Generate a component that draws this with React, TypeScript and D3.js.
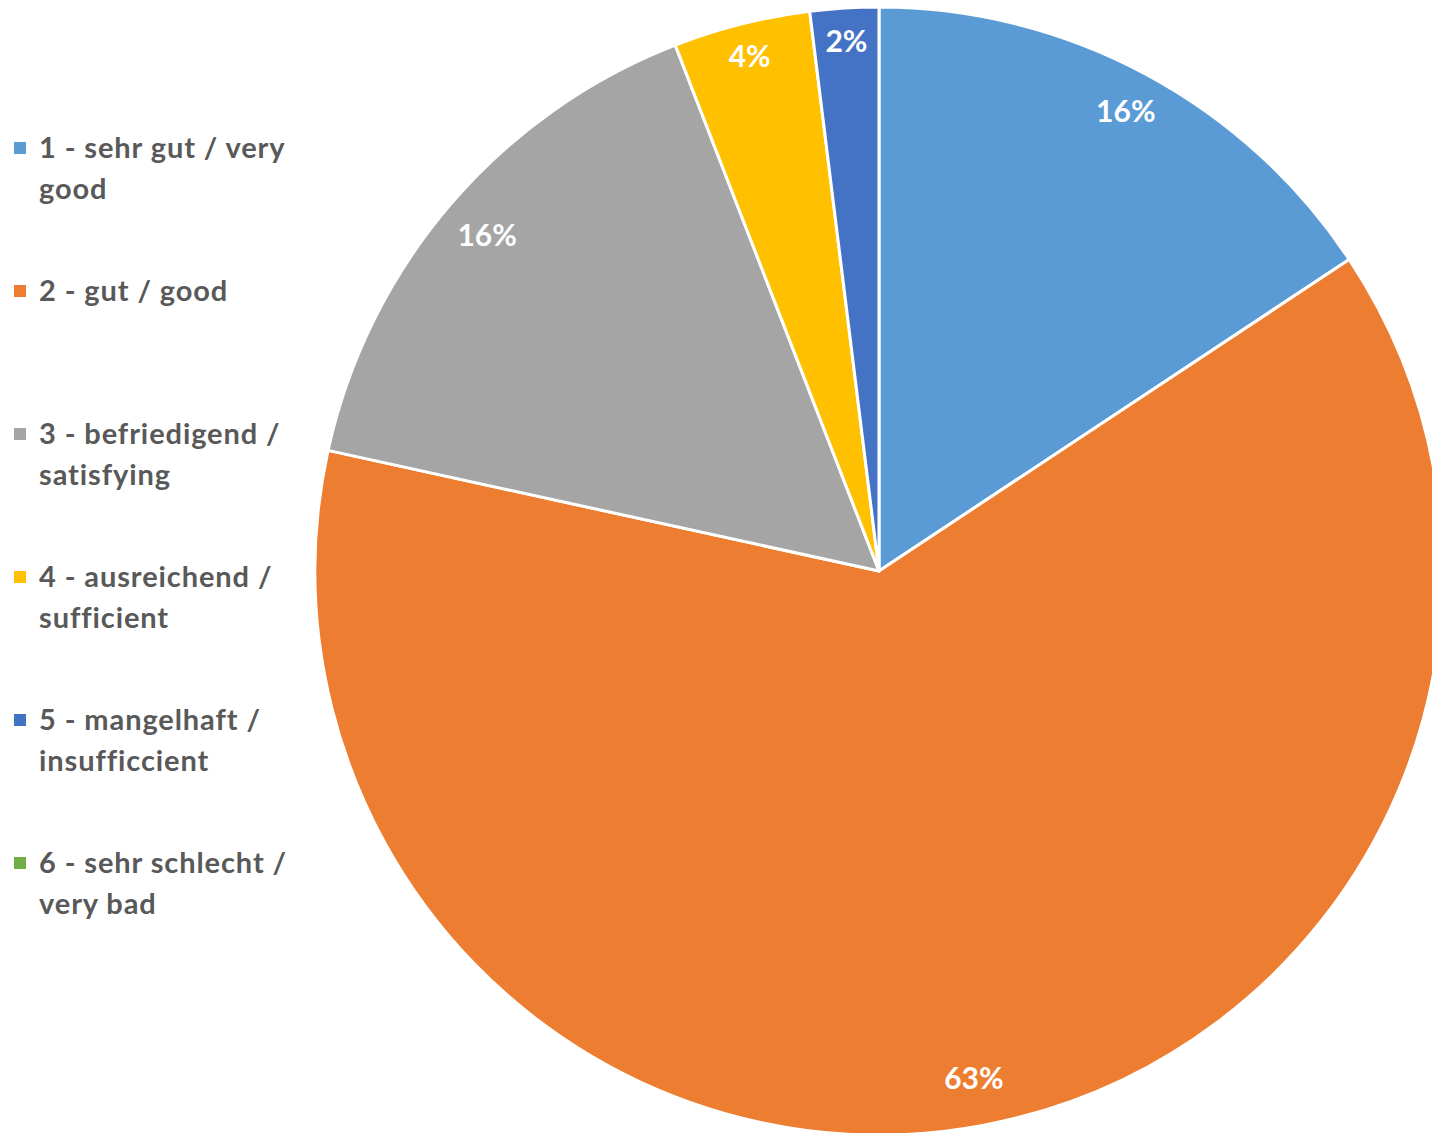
import React from "react";
import * as d3 from "d3";

// ratings (count of answers)
const categories = [
  ["1 - sehr gut / very", "good"],
  ["2 - gut / good"],
  ["3 - befriedigend /", "satisfying"],
  ["4 - ausreichend /", "sufficient"],
  ["5 - mangelhaft /", "insufficcient"],
  ["6 - sehr schlecht /", "very bad"],
];
const counts = [8, 32, 8, 2, 1, 0];
const colors = ["#5B9BD5", "#ED7D31", "#A5A5A5", "#FFC000", "#4472C4", "#70AD47"];
// label distance from centre, as a share of the radius
const labelPos = [0.925, 0.915, 0.915, 0.94, 0.94, 0.94];

const W = 1432;
const H = 1133;
const cx = 879;
const cy = 571;
const R = 564;
const FONT = "Lato, 'Open Sans', sans-serif";

export default function App() {
  const total = d3.sum(counts);
  const pie = d3.pie<number>().value(d => d).sort(null);
  const arcs = pie(counts);
  const arc = d3.arc<d3.PieArcDatum<number>>().innerRadius(0).outerRadius(R);
  const fmt = d3.format(".0%");

  return (
    <div style={{ position: "absolute", left: 0, top: 0 }}>
      <svg width={W} height={H} style={{ display: "block", background: "#fff" }}>
        <g transform={`translate(${cx},${cy})`}>
          {arcs.filter(a => a.value > 0).map((a, i) => (
            <path key={i} d={arc(a) as string} fill={colors[a.index]} stroke="#fff" strokeWidth={3} strokeLinejoin="round" />
          ))}
          {arcs.filter(a => a.value > 0).map((a, i) => {
            const r = R * labelPos[a.index];
            const [x, y] = d3.arc<d3.PieArcDatum<number>>().innerRadius(r).outerRadius(r).centroid(a);
            return (
              <text key={i} x={x} y={y} dy="0.35em" textAnchor="middle" fill="#fff"
                fontFamily={FONT} fontWeight={700} fontSize={30}>
                {fmt(a.value / total)}
              </text>
            );
          })}
        </g>
        <g fontFamily={FONT} fontWeight={700} fontSize={29} fill="#595959" letterSpacing={0.9}>
          {categories.map((lines, i) => {
            const y0 = 148 + i * 143;
            return (
              <g key={i}>
                <rect x={14} y={y0 - 6} width={12} height={12} fill={colors[i]} />
                {lines.map((t, j) => (
                  <text key={j} x={39} y={y0 + j * 41} dy="0.35em">{t}</text>
                ))}
              </g>
            );
          })}
        </g>
      </svg>
    </div>
  );
}
